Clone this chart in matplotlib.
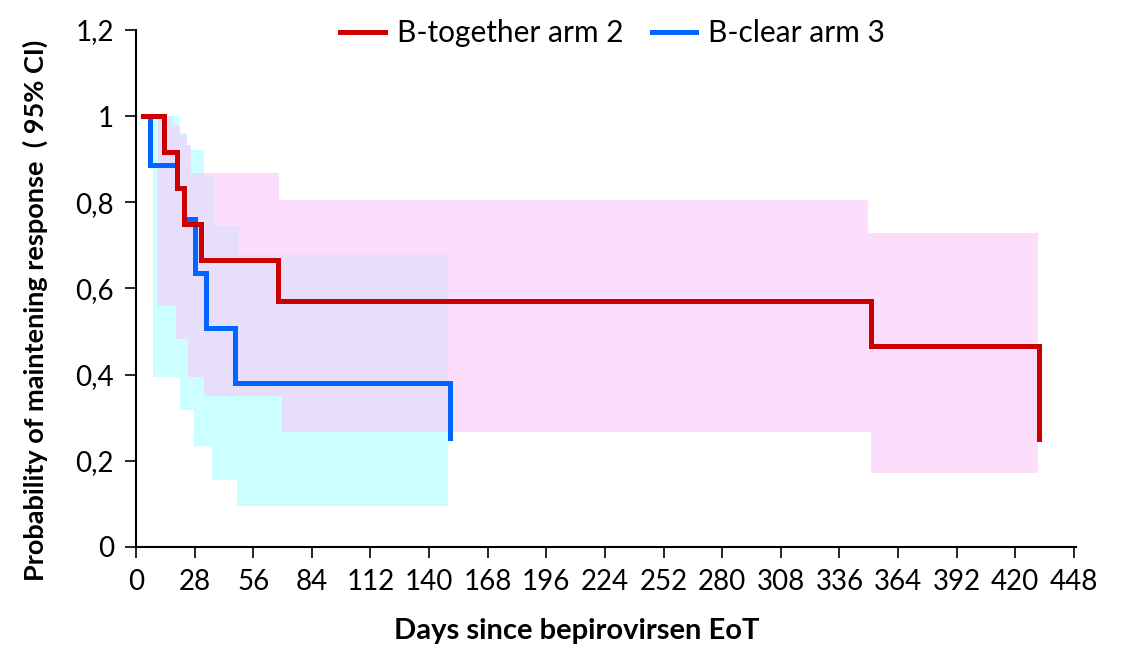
import numpy as np
import matplotlib
matplotlib.use("Agg")
import matplotlib.pyplot as plt

plt.rcParams['font.family'] = ['Lato', 'DejaVu Sans']

# Kaplan-Meier curves (step changes at these days)
red_t = [3.35, 13.6, 19.8, 23.1, 31.1, 67.8, 351.0, 431.4]
red_s = [1.0, 0.917, 0.833, 0.750, 0.667, 0.571, 0.467, 0.250]

blue_t = [3.35, 6.7, 19.8, 23.1, 28.3, 33.5, 47.4, 150.0]
blue_s = [1.0, 0.886, 0.833, 0.762, 0.635, 0.508, 0.381, 0.254]

# 95% confidence bands: breakpoints (last entry is the end of the band)
red_hi_t = [10.4, 17.1, 21.1, 24.3, 26.2, 68.5, 349.6, 431.0]
red_hi = [1.0, 0.979, 0.956, 0.933, 0.867, 0.805, 0.729]
red_lo_t = [10.4, 19.0, 25.0, 32.3, 69.8, 351.0, 431.0]
red_lo = [0.56, 0.483, 0.395, 0.35, 0.267, 0.172]

blue_hi_t = [8.0, 20.5, 24.3, 26.2, 32.3, 36.9, 49.3, 149.0]
blue_hi = [1.0, 0.96, 0.933, 0.921, 0.86, 0.744, 0.677]
blue_lo_t = [8.0, 21.1, 27.6, 36.4, 48.2, 149.0]
blue_lo = [0.395, 0.318, 0.235, 0.155, 0.095]

x_ticks = list(range(0, 449, 28))
y_ticks = [0, 0.2, 0.4, 0.6, 0.8, 1.0, 1.2]
y_tick_labels = ["0", "0,2", "0,4", "0,6", "0,8", "1", "1,2"]

labels = ["B-together arm 2", "B-clear arm 3"]
RED = "#CC0000"
BLUE = "#0066FF"
FS = 20


def step_eval(bt, vals, xs):
    bt = np.asarray(bt)
    idx = np.searchsorted(bt, xs, side="right") - 1
    idx = np.clip(idx, 0, len(vals) - 1)
    return np.asarray(vals)[idx]


def band(ax, hi_t, hi, lo_t, lo, **kw):
    xs = np.unique(np.concatenate([hi_t, lo_t]))
    up = step_eval(hi_t, hi, xs)
    dn = step_eval(lo_t, lo, xs)
    ax.fill_between(xs, dn, up, step="post", linewidth=0, **kw)


fig = plt.figure(figsize=(11.22, 6.48), dpi=100)
ax = fig.add_axes([0.1212, 0.1559, 0.8378, 0.7978])

band(ax, blue_hi_t, blue_hi, blue_lo_t, blue_lo, color="#CCFFFF", zorder=1)
band(ax, red_hi_t, red_hi, red_lo_t, red_lo, color=(251/255, 200/255, 251/255),
     alpha=0.59, zorder=2)

ax.step(blue_t, blue_s, where="post", color=BLUE, lw=3.6, zorder=3,
        label=labels[1], solid_joinstyle="miter")
ax.step(red_t, red_s, where="post", color=RED, lw=3.6, zorder=4,
        label=labels[0], solid_joinstyle="miter")

ax.set_xlim(0, 449)
ax.set_ylim(0, 1.2)
ax.set_xticks(x_ticks)
ax.set_xticklabels([str(v) for v in x_ticks])
ax.set_yticks(y_ticks)
ax.set_yticklabels(y_tick_labels)

for s in ["top", "right"]:
    ax.spines[s].set_visible(False)
for s in ["left", "bottom"]:
    ax.spines[s].set_linewidth(1.5)
    ax.spines[s].set_color("black")

ax.tick_params(axis="both", direction="out", length=8, width=1.2,
               labelsize=FS, color="black")
ax.tick_params(axis="x", pad=8)
ax.tick_params(axis="y", pad=8)

ax.set_xlabel("Days since bepirovirsen EoT", fontsize=FS + 1, fontweight="bold")
ax.xaxis.set_label_coords(0.469, -0.137)
ax.set_ylabel("Probability of maintening response  ( 95% CI)", fontsize=19.5,
              fontweight="bold")
ax.yaxis.set_label_coords(-0.094, 0.458)

h, l = ax.get_legend_handles_labels()
order = [l.index(labels[0]), l.index(labels[1])]
ax.legend([h[i] for i in order], [l[i] for i in order], loc="center",
          bbox_to_anchor=(0.507, 0.994), ncol=2, frameon=False, fontsize=21.5,
          handlelength=1.5, handletextpad=0.4, columnspacing=0.95)

fig.savefig("out.png", dpi=100)
